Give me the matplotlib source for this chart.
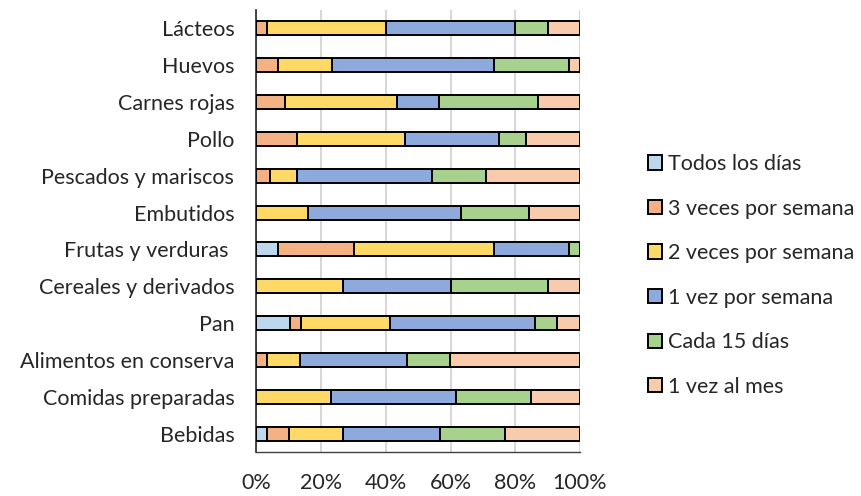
import matplotlib.pyplot as plt
import numpy as np
from matplotlib.patches import Patch

plt.rcParams['font.family'] = ['Lato', 'DejaVu Sans']

categories = ['Lácteos', 'Huevos', 'Carnes rojas', 'Pollo', 'Pescados y mariscos',
              'Embutidos', 'Frutas y verduras ', 'Cereales y derivados', 'Pan',
              'Alimentos en conserva', 'Comidas preparadas', 'Bebidas']

series = ['Todos los días', '3 veces por semana', '2 veces por semana',
          '1 vez por semana', 'Cada 15 días', '1 vez al mes']

todos = [0, 0, 0, 0, 0, 0, 6.7, 0, 10.3, 0, 0, 3.3]
tres_semana = [3.3, 6.7, 8.7, 12.5, 4.2, 0, 23.3, 0, 3.4, 3.3, 0, 6.7]
dos_semana = [36.7, 16.7, 34.8, 33.3, 8.3, 15.8, 43.3, 26.7, 27.6, 10.0, 23.1, 16.7]
una_semana = [40.0, 50.0, 13.0, 29.2, 41.7, 47.4, 23.3, 33.3, 44.8, 33.3, 38.5, 30.0]
quince = [10.0, 23.3, 30.4, 8.3, 16.7, 21.1, 3.3, 30.0, 6.9, 13.3, 23.1, 20.0]
mes = [10.0, 3.3, 13.0, 16.7, 29.2, 15.8, 0, 10.0, 6.9, 40.0, 15.4, 23.3]

colors = ['#BDD7EE', '#F4B183', '#FFD966', '#8EA9DB', '#A9D18E', '#F8CBAD']

data = np.array([todos, tres_semana, dos_semana, una_semana, quince, mes])

fs = 15.5
fig = plt.figure(figsize=(8.62, 4.96), dpi=100)
ax = fig.add_axes([256.5 / 862, 1 - 452 / 496, (580 - 256.5) / 862, (452 - 10) / 496])

y = np.arange(len(categories))
left = np.zeros(len(categories))
for vals, col in zip(data, colors):
    ax.barh(y, vals, left=left, height=0.38, color=col, edgecolor='black', linewidth=1.4, zorder=3)
    left += vals

ax.set_xlim(0, 100)
ax.set_ylim(len(categories) - 0.5, -0.5)
ax.set_yticks(y)
ax.set_yticklabels(categories, fontsize=fs, color='#262626')
ax.set_xticks(np.arange(0, 101, 20))
ax.set_xticklabels(['{}%'.format(v) for v in range(0, 101, 20)], fontsize=fs, color='#262626')
ax.tick_params(axis='y', length=0, pad=16)
ax.tick_params(axis='x', length=0, pad=15)
ax.grid(axis='x', color='#D0D0D0', linewidth=1.2, zorder=0)
for s in ['top', 'right']:
    ax.spines[s].set_visible(False)
ax.spines['left'].set_color('#262626')
ax.spines['left'].set_linewidth(1.2)
ax.spines['bottom'].set_color('#404040')
ax.spines['bottom'].set_linewidth(1.0)

handles = [Patch(facecolor=c, edgecolor='black', linewidth=1.4) for c in colors]
fig.legend(handles, series, loc='center left', bbox_to_anchor=(648 / 862, 1 - 275.5 / 496),
           frameon=False, fontsize=fs, handlelength=0.65, handleheight=0.65,
           handletextpad=0.28, labelspacing=1.14, labelcolor='#262626',
           borderpad=0, borderaxespad=0)

fig.savefig('out.png', dpi=100)
